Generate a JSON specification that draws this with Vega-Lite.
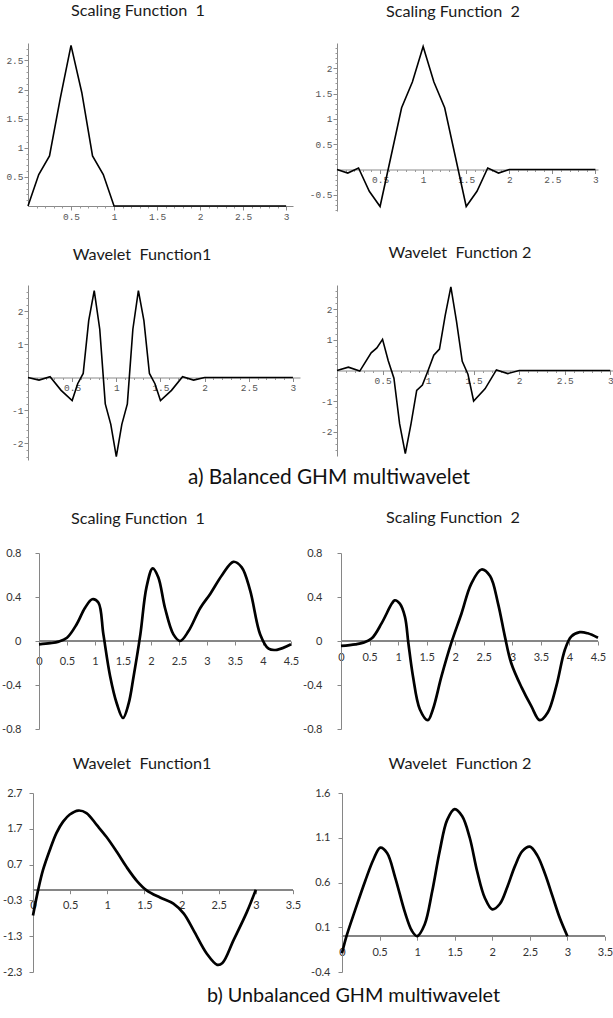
{
  "$schema": "https://vega.github.io/schema/vega-lite/v6.json",
  "background": "white",
  "padding": 0,
  "autosize": {"type": "pad"},
  "config": {
    "view": {"stroke": null},
    "title": {"font": "Lato", "fontSize": 16.2, "fontWeight": "normal", "color": "#1a1a1a", "anchor": "middle", "frame": "group", "baseline": "alphabetic"},
    "axis": {"grid": false, "title": null, "labelFlush": false, "labelOverlap": false}
  },
  "datasets": {
    "p1": [{"x":0,"y":0},{"x":0.125,"y":0.54},{"x":0.25,"y":0.86},{"x":0.375,"y":1.85},{"x":0.5,"y":2.76},{"x":0.625,"y":1.95},{"x":0.75,"y":0.86},{"x":0.875,"y":0.54},{"x":1,"y":0},{"x":3,"y":0}],
    "p2": [{"x":0,"y":0},{"x":0.125,"y":-0.07},{"x":0.25,"y":0.03},{"x":0.375,"y":-0.43},{"x":0.5,"y":-0.73},{"x":0.75,"y":1.22},{"x":0.875,"y":1.73},{"x":1,"y":2.43},{"x":1.125,"y":1.73},{"x":1.25,"y":1.22},{"x":1.5,"y":-0.73},{"x":1.625,"y":-0.43},{"x":1.75,"y":0.03},{"x":1.875,"y":-0.07},{"x":2,"y":0},{"x":3,"y":0}],
    "p3": [{"x":0,"y":0},{"x":0.125,"y":-0.08},{"x":0.25,"y":0.02},{"x":0.375,"y":-0.39},{"x":0.5,"y":-0.7},{"x":0.5625,"y":-0.19},{"x":0.625,"y":0.12},{"x":0.6875,"y":1.72},{"x":0.75,"y":2.63},{"x":0.8125,"y":1.46},{"x":0.875,"y":-0.8},{"x":0.9375,"y":-1.42},{"x":1,"y":-2.4},{"x":1.0625,"y":-1.42},{"x":1.125,"y":-0.8},{"x":1.1875,"y":1.46},{"x":1.25,"y":2.63},{"x":1.3125,"y":1.72},{"x":1.375,"y":0.12},{"x":1.4375,"y":-0.19},{"x":1.5,"y":-0.7},{"x":1.625,"y":-0.39},{"x":1.75,"y":0.02},{"x":1.875,"y":-0.08},{"x":2,"y":0},{"x":3,"y":0}],
    "p4": [{"x":0,"y":0},{"x":0.125,"y":0.11},{"x":0.25,"y":-0.02},{"x":0.375,"y":0.58},{"x":0.4375,"y":0.74},{"x":0.5,"y":1.02},{"x":0.5625,"y":0.32},{"x":0.625,"y":-0.25},{"x":0.6875,"y":-1.75},{"x":0.75,"y":-2.72},{"x":0.8125,"y":-1.75},{"x":0.875,"y":-0.65},{"x":0.9375,"y":-0.48},{"x":1,"y":0},{"x":1.0625,"y":0.5},{"x":1.125,"y":0.7},{"x":1.1875,"y":1.8},{"x":1.25,"y":2.74},{"x":1.3125,"y":1.6},{"x":1.375,"y":0.3},{"x":1.4375,"y":-0.12},{"x":1.5,"y":-1.0},{"x":1.625,"y":-0.6},{"x":1.75,"y":0.02},{"x":1.875,"y":-0.1},{"x":2,"y":0},{"x":3,"y":0}],
    "p5": [{"x":0,"y":-0.03},{"x":0.2,"y":-0.02},{"x":0.35,"y":-0.006},{"x":0.5,"y":0.03},{"x":0.67,"y":0.15},{"x":0.82,"y":0.3},{"x":0.95,"y":0.38},{"x":1.06,"y":0.35},{"x":1.15,"y":0.06},{"x":1.27,"y":-0.32},{"x":1.39,"y":-0.57},{"x":1.5,"y":-0.7},{"x":1.6,"y":-0.57},{"x":1.69,"y":-0.32},{"x":1.81,"y":0.06},{"x":1.92,"y":0.49},{"x":2.03,"y":0.66},{"x":2.13,"y":0.58},{"x":2.25,"y":0.3},{"x":2.4,"y":0.06},{"x":2.52,"y":0.0},{"x":2.67,"y":0.09},{"x":2.88,"y":0.3},{"x":3.06,"y":0.43},{"x":3.27,"y":0.6},{"x":3.47,"y":0.72},{"x":3.62,"y":0.67},{"x":3.77,"y":0.46},{"x":3.95,"y":0.06},{"x":4.1,"y":-0.07},{"x":4.25,"y":-0.08},{"x":4.5,"y":-0.03}],
    "p6": [{"x":0,"y":-0.045},{"x":0.25,"y":-0.03},{"x":0.39,"y":-0.015},{"x":0.54,"y":0.024},{"x":0.71,"y":0.16},{"x":0.89,"y":0.34},{"x":0.94,"y":0.37},{"x":1.03,"y":0.34},{"x":1.12,"y":0.22},{"x":1.18,"y":-0.02},{"x":1.26,"y":-0.32},{"x":1.38,"y":-0.62},{"x":1.52,"y":-0.72},{"x":1.61,"y":-0.62},{"x":1.76,"y":-0.32},{"x":1.93,"y":-0.02},{"x":2.11,"y":0.25},{"x":2.28,"y":0.52},{"x":2.46,"y":0.65},{"x":2.61,"y":0.59},{"x":2.75,"y":0.34},{"x":2.87,"y":0.04},{"x":2.98,"y":-0.2},{"x":3.16,"y":-0.42},{"x":3.33,"y":-0.59},{"x":3.48,"y":-0.72},{"x":3.62,"y":-0.65},{"x":3.77,"y":-0.41},{"x":3.92,"y":-0.08},{"x":4.03,"y":0.04},{"x":4.18,"y":0.08},{"x":4.32,"y":0.07},{"x":4.5,"y":0.03}],
    "p7": [{"x":0,"y":-0.72},{"x":0.07,"y":0},{"x":0.135,"y":0.55},{"x":0.225,"y":1.1},{"x":0.315,"y":1.58},{"x":0.405,"y":1.9},{"x":0.495,"y":2.1},{"x":0.61,"y":2.21},{"x":0.72,"y":2.14},{"x":0.86,"y":1.8},{"x":0.99,"y":1.47},{"x":1.13,"y":1.05},{"x":1.26,"y":0.63},{"x":1.4,"y":0.24},{"x":1.53,"y":-0.02},{"x":1.71,"y":-0.22},{"x":1.89,"y":-0.39},{"x":2.03,"y":-0.67},{"x":2.16,"y":-1.13},{"x":2.34,"y":-1.79},{"x":2.48,"y":-2.1},{"x":2.55,"y":-2.05},{"x":2.7,"y":-1.41},{"x":2.88,"y":-0.62},{"x":3.0,"y":0}],
    "p8": [{"x":0,"y":-0.19},{"x":0.06,"y":0},{"x":0.17,"y":0.28},{"x":0.31,"y":0.62},{"x":0.42,"y":0.86},{"x":0.51,"y":0.99},{"x":0.6,"y":0.93},{"x":0.71,"y":0.65},{"x":0.84,"y":0.26},{"x":0.93,"y":0.06},{"x":1.0,"y":0.0},{"x":1.1,"y":0.13},{"x":1.2,"y":0.5},{"x":1.3,"y":0.95},{"x":1.4,"y":1.3},{"x":1.5,"y":1.42},{"x":1.6,"y":1.34},{"x":1.7,"y":1.1},{"x":1.8,"y":0.72},{"x":1.9,"y":0.43},{"x":2.0,"y":0.3},{"x":2.1,"y":0.36},{"x":2.2,"y":0.55},{"x":2.3,"y":0.78},{"x":2.4,"y":0.95},{"x":2.5,"y":1.0},{"x":2.6,"y":0.9},{"x":2.7,"y":0.7},{"x":2.8,"y":0.45},{"x":2.9,"y":0.2},{"x":3.0,"y":0}]
  },
  "columns": 4,
  "spacing": 0,
  "bounds": "flush",
  "align": "none",
  "concat": [
    {"width": 28, "height": 40, "data": {"values": [{"a": 1}]}, "mark": {"type": "point", "opacity": 0}},
    {"width": 1, "height": 1, "data": {"values": [{"a": 1}]}, "mark": {"type": "point", "opacity": 0}},
    {"width": 37, "height": 1, "data": {"values": [{"a": 1}]}, "mark": {"type": "point", "opacity": 0}},
    {"width": 1, "height": 1, "data": {"values": [{"a": 1}]}, "mark": {"type": "point", "opacity": 0}},

    {"width": 28, "height": 1, "data": {"values": [{"a": 1}]}, "mark": {"type": "point", "opacity": 0}},
    {
      "width": 265, "height": 163,
      "title": {"text": "Scaling Function\u00a0 1", "dx": -22.5, "offset": 22.8},
      "data": {"name": "p1"},
      "resolve": {"axis": {"x": "independent", "y": "independent"}},
      "layer": [
        {"mark": {"type": "line", "color": "black", "strokeWidth": 1.6},
         "encoding": {
          "x": {"field": "x", "type": "quantitative", "scale": {"domain": [0, 3.08], "nice": false, "zero": false},
            "axis": {"orient": "bottom", "values": [0.5, 1, 1.5, 2, 2.5, 3], "offset": 0, "domainColor": "#8a8a8a", "tickColor": "#8a8a8a", "tickSize": 4, "labelFont": "Liberation Mono", "labelFontSize": 9.5, "labelColor": "#555", "labelPadding": 1, "labelOverlap": false, "labelExpr": "replace(format(datum.value, '~g'), '−', '-')"}},
          "y": {"field": "y", "type": "quantitative", "scale": {"domain": [0, 2.8], "nice": false, "zero": false},
            "axis": {"orient": "left", "values": [0.5, 1, 1.5, 2, 2.5], "domainColor": "#8a8a8a", "tickColor": "#8a8a8a", "tickSize": 4, "labelFont": "Liberation Mono", "labelFontSize": 9.5, "labelColor": "#555", "labelPadding": 1, "labelOverlap": false, "labelExpr": "replace(format(datum.value, '~g'), '−', '-')"}}
         }},
        {"mark": {"type": "line", "opacity": 0},
         "encoding": {
          "x": {"field": "x", "type": "quantitative", "scale": {"domain": [0, 3.08], "nice": false, "zero": false},
            "axis": {"orient": "bottom", "values": [0.1,0.2,0.3,0.4,0.6,0.7,0.8,0.9,1.1,1.2,1.3,1.4,1.6,1.7,1.8,1.9,2.1,2.2,2.3,2.4,2.6,2.7,2.8,2.9], "offset": 0, "domain": false, "labels": false, "tickColor": "#9a9a9a", "tickSize": 2}},
          "y": {"field": "y", "type": "quantitative", "scale": {"domain": [0, 2.8], "nice": false, "zero": false},
            "axis": {"orient": "left", "values": [0.1,0.2,0.3,0.4,0.6,0.7,0.8,0.9,1.1,1.2,1.3,1.4,1.6,1.7,1.8,1.9,2.1,2.2,2.3,2.4,2.6,2.7], "domain": false, "labels": false, "tickColor": "#9a9a9a", "tickSize": 2}}
         }}
      ]
    },
    {"width": 37, "height": 1, "data": {"values": [{"a": 1}]}, "mark": {"type": "point", "opacity": 0}},
    {
      "width": 261, "height": 168,
      "title": {"text": "Scaling Function\u00a0 2", "dx": -14.5, "offset": 22.8},
      "data": {"name": "p2"},
      "resolve": {"axis": {"x": "independent", "y": "independent"}},
      "layer": [
        {"mark": {"type": "line", "color": "black", "strokeWidth": 1.6},
         "encoding": {
          "x": {"field": "x", "type": "quantitative", "scale": {"domain": [0, 3.03], "nice": false, "zero": false},
            "axis": {"orient": "bottom", "values": [0.5, 1, 1.5, 2, 2.5, 3], "offset": -41.5, "domainColor": "#8a8a8a", "tickColor": "#8a8a8a", "tickSize": 4, "labelFont": "Liberation Mono", "labelFontSize": 9.5, "labelColor": "#555", "labelPadding": 1, "labelOverlap": false, "labelExpr": "replace(format(datum.value, '~g'), '−', '-')"}},
          "y": {"field": "y", "type": "quantitative", "scale": {"domain": [-0.82, 2.5], "nice": false, "zero": false},
            "axis": {"orient": "left", "values": [-0.5, 0.5, 1, 1.5, 2], "domainColor": "#8a8a8a", "tickColor": "#8a8a8a", "tickSize": 4, "labelFont": "Liberation Mono", "labelFontSize": 9.5, "labelColor": "#555", "labelPadding": 1, "labelOverlap": false, "labelExpr": "replace(format(datum.value, '~g'), '−', '-')"}}
         }},
        {"mark": {"type": "line", "opacity": 0},
         "encoding": {
          "x": {"field": "x", "type": "quantitative", "scale": {"domain": [0, 3.03], "nice": false, "zero": false},
            "axis": {"orient": "bottom", "values": [0.1,0.2,0.3,0.4,0.6,0.7,0.8,0.9,1.1,1.2,1.3,1.4,1.6,1.7,1.8,1.9,2.1,2.2,2.3,2.4,2.6,2.7,2.8,2.9], "offset": -41.5, "domain": false, "labels": false, "tickColor": "#9a9a9a", "tickSize": 2}},
          "y": {"field": "y", "type": "quantitative", "scale": {"domain": [-0.82, 2.5], "nice": false, "zero": false},
            "axis": {"orient": "left", "values": [-0.8,-0.7,-0.6,-0.4,-0.3,-0.2,-0.1,0.1,0.2,0.3,0.4,0.6,0.7,0.8,0.9,1.1,1.2,1.3,1.4,1.6,1.7,1.8,1.9,2.1,2.2,2.3,2.4], "domain": false, "labels": false, "tickColor": "#9a9a9a", "tickSize": 2}}
         }}
      ]
    },

    {"width": 28, "height": 74, "data": {"values": [{"a": 1}]}, "mark": {"type": "point", "opacity": 0}},
    {"width": 1, "height": 1, "data": {"values": [{"a": 1}]}, "mark": {"type": "point", "opacity": 0}},
    {"width": 37, "height": 1, "data": {"values": [{"a": 1}]}, "mark": {"type": "point", "opacity": 0}},
    {"width": 1, "height": 1, "data": {"values": [{"a": 1}]}, "mark": {"type": "point", "opacity": 0}},

    {"width": 28, "height": 1, "data": {"values": [{"a": 1}]}, "mark": {"type": "point", "opacity": 0}},
    {
      "width": 272, "height": 175,
      "title": {"text": "Wavelet\u00a0 Function1", "dx": -22, "offset": 22},
      "data": {"name": "p3"},
      "resolve": {"axis": {"x": "independent", "y": "independent"}},
      "layer": [
        {"mark": {"type": "line", "color": "black", "strokeWidth": 1.6},
         "encoding": {
          "x": {"field": "x", "type": "quantitative", "scale": {"domain": [0, 3.08], "nice": false, "zero": false},
            "axis": {"orient": "bottom", "values": [0.5, 1, 1.5, 2, 2.5, 3], "offset": -82.5, "domainColor": "#8a8a8a", "tickColor": "#8a8a8a", "tickSize": 4, "labelFont": "Liberation Mono", "labelFontSize": 9.5, "labelColor": "#555", "labelPadding": 1, "labelOverlap": false, "labelExpr": "replace(format(datum.value, '~g'), '−', '-')"}},
          "y": {"field": "y", "type": "quantitative", "scale": {"domain": [-2.5, 2.8], "nice": false, "zero": false},
            "axis": {"orient": "left", "values": [-2, -1, 1, 2], "domainColor": "#8a8a8a", "tickColor": "#8a8a8a", "tickSize": 4, "labelFont": "Liberation Mono", "labelFontSize": 9.5, "labelColor": "#555", "labelPadding": 1, "labelOverlap": false, "labelExpr": "replace(format(datum.value, '~g'), '−', '-')"}}
         }},
        {"mark": {"type": "line", "opacity": 0},
         "encoding": {
          "x": {"field": "x", "type": "quantitative", "scale": {"domain": [0, 3.08], "nice": false, "zero": false},
            "axis": {"orient": "bottom", "values": [0.1,0.2,0.3,0.4,0.6,0.7,0.8,0.9,1.1,1.2,1.3,1.4,1.6,1.7,1.8,1.9,2.1,2.2,2.3,2.4,2.6,2.7,2.8,2.9], "offset": -82.5, "domain": false, "labels": false, "tickColor": "#9a9a9a", "tickSize": 2}},
          "y": {"field": "y", "type": "quantitative", "scale": {"domain": [-2.5, 2.8], "nice": false, "zero": false},
            "axis": {"orient": "left", "values": [-2.4,-2.2,-1.8,-1.6,-1.4,-1.2,-0.8,-0.6,-0.4,-0.2,0.2,0.4,0.6,0.8,1.2,1.4,1.6,1.8,2.2,2.4,2.6], "domain": false, "labels": false, "tickColor": "#9a9a9a", "tickSize": 2}}
         }}
      ]
    },
    {"width": 37, "height": 1, "data": {"values": [{"a": 1}]}, "mark": {"type": "point", "opacity": 0}},
    {
      "width": 276, "height": 171,
      "title": {"text": "Wavelet\u00a0 Function 2", "dx": -15, "offset": 22},
      "data": {"name": "p4"},
      "resolve": {"axis": {"x": "independent", "y": "independent"}},
      "layer": [
        {"mark": {"type": "line", "color": "black", "strokeWidth": 1.6},
         "encoding": {
          "x": {"field": "x", "type": "quantitative", "scale": {"domain": [0, 3.03], "nice": false, "zero": false},
            "axis": {"orient": "bottom", "values": [0.5, 1, 1.5, 2, 2.5, 3], "offset": -85.5, "domainColor": "#8a8a8a", "tickColor": "#8a8a8a", "tickSize": 4, "labelFont": "Liberation Mono", "labelFontSize": 9.5, "labelColor": "#555", "labelPadding": 1, "labelOverlap": false, "labelExpr": "replace(format(datum.value, '~g'), '−', '-')"}},
          "y": {"field": "y", "type": "quantitative", "scale": {"domain": [-2.8, 2.8], "nice": false, "zero": false},
            "axis": {"orient": "left", "values": [-2, -1, 1, 2], "domainColor": "#8a8a8a", "tickColor": "#8a8a8a", "tickSize": 4, "labelFont": "Liberation Mono", "labelFontSize": 9.5, "labelColor": "#555", "labelPadding": 1, "labelOverlap": false, "labelExpr": "replace(format(datum.value, '~g'), '−', '-')"}}
         }},
        {"mark": {"type": "line", "opacity": 0},
         "encoding": {
          "x": {"field": "x", "type": "quantitative", "scale": {"domain": [0, 3.03], "nice": false, "zero": false},
            "axis": {"orient": "bottom", "values": [0.1,0.2,0.3,0.4,0.6,0.7,0.8,0.9,1.1,1.2,1.3,1.4,1.6,1.7,1.8,1.9,2.1,2.2,2.3,2.4,2.6,2.7,2.8,2.9], "offset": -85.5, "domain": false, "labels": false, "tickColor": "#9a9a9a", "tickSize": 2}},
          "y": {"field": "y", "type": "quantitative", "scale": {"domain": [-2.8, 2.8], "nice": false, "zero": false},
            "axis": {"orient": "left", "values": [-2.6,-2.4,-2.2,-1.8,-1.6,-1.4,-1.2,-0.8,-0.6,-0.4,-0.2,0.2,0.4,0.6,0.8,1.2,1.4,1.6,1.8,2.2,2.4,2.6], "domain": false, "labels": false, "tickColor": "#9a9a9a", "tickSize": 2}}
         }}
      ]
    },

    {"width": 28, "height": 93, "title": {"text": "a)  Balanced GHM multiwavelet", "fontSize": 20.8, "color": "#111", "dx": 315, "offset": -28.7}, "data": {"values": [{"a": 1}]}, "mark": {"type": "point", "opacity": 0}},
    {"width": 1, "height": 1, "data": {"values": [{"a": 1}]}, "mark": {"type": "point", "opacity": 0}},
    {"width": 37, "height": 1, "data": {"values": [{"a": 1}]}, "mark": {"type": "point", "opacity": 0}},
    {"width": 1, "height": 1, "data": {"values": [{"a": 1}]}, "mark": {"type": "point", "opacity": 0}},

    {"width": 28, "height": 1, "data": {"values": [{"a": 1}]}, "mark": {"type": "point", "opacity": 0}},
    {
      "width": 263, "height": 176,
      "title": {"text": "Scaling Function\u00a0 1", "dx": -21.5, "offset": 20},
      "data": {"name": "p5"},
      "resolve": {"axis": {"x": "independent", "y": "independent"}},
      "layer": [
        {"mark": {"type": "rule", "color": "#868686", "strokeWidth": 1},
         "encoding": {"x": {"datum": 0, "type": "quantitative", "scale": {"domain": [-0.1964, 4.5], "nice": false, "zero": false}, "axis": null}, "x2": {"datum": 4.5}, "y": {"datum": 0, "type": "quantitative", "scale": {"domain": [-0.8, 0.8], "nice": false, "zero": false}, "axis": null}}},
        {"mark": {"type": "line", "color": "black", "strokeWidth": 2.7, "interpolate": "catmull-rom"},
         "encoding": {
          "x": {"field": "x", "type": "quantitative", "scale": {"domain": [-0.1964, 4.5], "nice": false, "zero": false},
            "axis": {"orient": "bottom", "values": [0, 0.5, 1, 1.5, 2, 2.5, 3, 3.5, 4, 4.5], "offset": -88, "domain": false, "tickColor": "#868686", "tickSize": 4, "labelFont": "Lato", "labelFontSize": 11, "labelColor": "#333", "labelPadding": 10, "labelOverlap": false, "labelExpr": "replace(format(datum.value, '~g'), '−', '-')"}},
          "y": {"field": "y", "type": "quantitative", "scale": {"domain": [-0.8, 0.8], "nice": false, "zero": false},
            "axis": {"orient": "left", "values": [-0.8, -0.4, 0, 0.4, 0.8], "offset": -11, "domainColor": "#868686", "tickColor": "#868686", "tickSize": 4, "labelFont": "Lato", "labelFontSize": 11, "labelColor": "#333", "labelPadding": 14, "labelOverlap": false, "labelExpr": "replace(format(datum.value, '~g'), '−', '-')"}}
         }}
      ]
    },
    {"width": 37, "height": 1, "data": {"values": [{"a": 1}]}, "mark": {"type": "point", "opacity": 0}},
    {
      "width": 261, "height": 176,
      "title": {"text": "Scaling Function\u00a0 2", "dx": -14.5, "offset": 21},
      "data": {"name": "p6"},
      "resolve": {"axis": {"x": "independent", "y": "independent"}},
      "layer": [
        {"mark": {"type": "rule", "color": "#868686", "strokeWidth": 1},
         "encoding": {"x": {"datum": 0, "type": "quantitative", "scale": {"domain": [-0.07, 4.5], "nice": false, "zero": false}, "axis": null}, "x2": {"datum": 4.5}, "y": {"datum": 0, "type": "quantitative", "scale": {"domain": [-0.8, 0.8], "nice": false, "zero": false}, "axis": null}}},
        {"mark": {"type": "line", "color": "black", "strokeWidth": 2.7, "interpolate": "catmull-rom"},
         "encoding": {
          "x": {"field": "x", "type": "quantitative", "scale": {"domain": [-0.07, 4.5], "nice": false, "zero": false},
            "axis": {"orient": "bottom", "values": [0, 0.5, 1, 1.5, 2, 2.5, 3, 3.5, 4, 4.5], "offset": -88, "domain": false, "tickColor": "#868686", "tickSize": 4, "labelFont": "Lato", "labelFontSize": 11, "labelColor": "#333", "labelPadding": 6, "labelOverlap": false, "labelExpr": "replace(format(datum.value, '~g'), '−', '-')"}},
          "y": {"field": "y", "type": "quantitative", "scale": {"domain": [-0.8, 0.8], "nice": false, "zero": false},
            "axis": {"orient": "left", "values": [-0.8, -0.4, 0, 0.4, 0.8], "offset": -4, "domainColor": "#868686", "tickColor": "#868686", "tickSize": 4, "labelFont": "Lato", "labelFontSize": 11, "labelColor": "#333", "labelPadding": 15, "labelOverlap": false, "labelExpr": "replace(format(datum.value, '~g'), '−', '-')"}}
         }}
      ]
    },

    {"width": 28, "height": 64, "data": {"values": [{"a": 1}]}, "mark": {"type": "point", "opacity": 0}},
    {"width": 1, "height": 1, "data": {"values": [{"a": 1}]}, "mark": {"type": "point", "opacity": 0}},
    {"width": 37, "height": 1, "data": {"values": [{"a": 1}]}, "mark": {"type": "point", "opacity": 0}},
    {"width": 1, "height": 1, "data": {"values": [{"a": 1}]}, "mark": {"type": "point", "opacity": 0}},

    {"width": 28, "height": 1, "data": {"values": [{"a": 1}]}, "mark": {"type": "point", "opacity": 0}},
    {
      "width": 265, "height": 179,
      "title": {"text": "Wavelet\u00a0 Function1", "dx": -18.5, "offset": 15},
      "data": {"name": "p7"},
      "resolve": {"axis": {"x": "independent", "y": "independent"}},
      "layer": [
        {"mark": {"type": "rule", "color": "#868686", "strokeWidth": 1},
         "encoding": {"x": {"datum": 0, "type": "quantitative", "scale": {"domain": [-0.0673, 3.5], "nice": false, "zero": false}, "axis": null}, "x2": {"datum": 3.5}, "y": {"datum": 0, "type": "quantitative", "scale": {"domain": [-2.3, 2.7], "nice": false, "zero": false}, "axis": null}}},
        {"mark": {"type": "line", "color": "black", "strokeWidth": 2.7, "interpolate": "catmull-rom"},
         "encoding": {
          "x": {"field": "x", "type": "quantitative", "scale": {"domain": [-0.0673, 3.5], "nice": false, "zero": false},
            "axis": {"orient": "bottom", "values": [0, 0.5, 1, 1.5, 2, 2.5, 3, 3.5], "offset": -82.3, "domain": false, "tickColor": "#868686", "tickSize": 4, "labelFont": "Lato", "labelFontSize": 11, "labelColor": "#333", "labelPadding": 6, "labelOverlap": false, "labelExpr": "replace(format(datum.value, '~g'), '−', '-')"}},
          "y": {"field": "y", "type": "quantitative", "scale": {"domain": [-2.3, 2.7], "nice": false, "zero": false},
            "axis": {"orient": "left", "values": [-2.3, -1.3, -0.3, 0.7, 1.7, 2.7], "offset": -5, "domainColor": "#868686", "tickColor": "#868686", "tickSize": 4, "labelFont": "Lato", "labelFontSize": 11, "labelColor": "#333", "labelPadding": 7, "labelOverlap": false, "labelExpr": "replace(format(datum.value, '~g'), '−', '-')"}}
         }}
      ]
    },
    {"width": 37, "height": 1, "data": {"values": [{"a": 1}]}, "mark": {"type": "point", "opacity": 0}},
    {
      "width": 268, "height": 179,
      "title": {"text": "Wavelet\u00a0 Function 2", "dx": -11, "offset": 15},
      "data": {"name": "p8"},
      "resolve": {"axis": {"x": "independent", "y": "independent"}},
      "layer": [
        {"mark": {"type": "rule", "color": "#868686", "strokeWidth": 1},
         "encoding": {"x": {"datum": 0, "type": "quantitative", "scale": {"domain": [-0.0665, 3.5], "nice": false, "zero": false}, "axis": null}, "x2": {"datum": 3.5}, "y": {"datum": 0, "type": "quantitative", "scale": {"domain": [-0.4, 1.6], "nice": false, "zero": false}, "axis": null}}},
        {"mark": {"type": "line", "color": "black", "strokeWidth": 2.7, "interpolate": "catmull-rom"},
         "encoding": {
          "x": {"field": "x", "type": "quantitative", "scale": {"domain": [-0.0665, 3.5], "nice": false, "zero": false},
            "axis": {"orient": "bottom", "values": [0, 0.5, 1, 1.5, 2, 2.5, 3, 3.5], "offset": -35.8, "domain": false, "tickColor": "#868686", "tickSize": 4, "labelFont": "Lato", "labelFontSize": 11, "labelColor": "#333", "labelPadding": 6, "labelOverlap": false, "labelExpr": "replace(format(datum.value, '~g'), '−', '-')"}},
          "y": {"field": "y", "type": "quantitative", "scale": {"domain": [-0.4, 1.6], "nice": false, "zero": false},
            "axis": {"orient": "left", "values": [-0.4, 0.1, 0.6, 1.1, 1.6], "offset": -5, "domainColor": "#868686", "tickColor": "#868686", "tickSize": 4, "labelFont": "Lato", "labelFontSize": 11, "labelColor": "#333", "labelPadding": 8, "labelOverlap": false, "labelExpr": "replace(format(datum.value, '~g'), '−', '-')"}}
         }}
      ]
    },

    {"width": 28, "height": 49, "title": {"text": "b)\u00a0Unbalanced GHM multiwavelet", "fontSize": 19.8, "color": "#111", "dx": 339.5, "offset": -34}, "data": {"values": [{"a": 1}]}, "mark": {"type": "point", "opacity": 0}},
    {"width": 1, "height": 1, "data": {"values": [{"a": 1}]}, "mark": {"type": "point", "opacity": 0}},
    {"width": 37, "height": 1, "data": {"values": [{"a": 1}]}, "mark": {"type": "point", "opacity": 0}},
    {"width": 1, "height": 1, "data": {"values": [{"a": 1}]}, "mark": {"type": "point", "opacity": 0}}
  ]
}
